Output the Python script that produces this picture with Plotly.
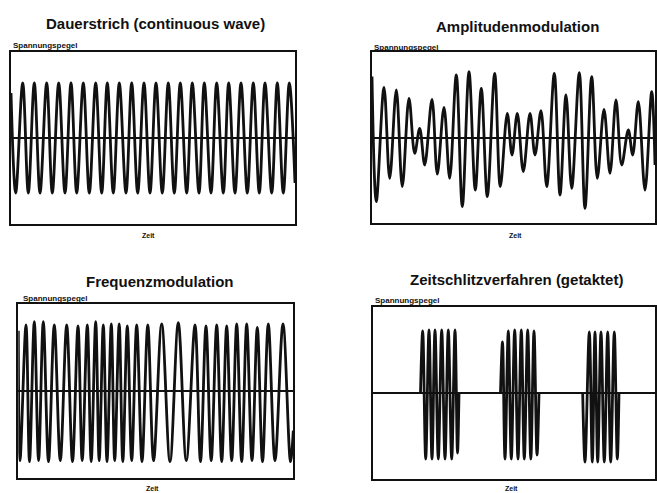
import plotly.graph_objects as go

# ---------------- data ----------------
# amplitudes are relative to the centre line, time in arbitrary units from the left frame edge

titles = ["Dauerstrich (continuous wave)", "Amplitudenmodulation",
          "Frequenzmodulation", "Zeitschlitzverfahren (getaktet)"]
y_label = "Spannungspegel"
x_label = "Zeit"

# Dauerstrich: extrema of the wave
cw_t = [0, 4.7, 11.7, 17.3, 23.3, 29, 35.7, 41.3, 47.7, 54, 60, 65.7, 72.3, 78.3, 84.7, 90.7,
        96.3, 102.3, 108.3, 115, 120.7, 126.7, 133, 139, 145, 151.3, 157.3, 163.3, 169.3,
        175.7, 181.3, 188, 193.3, 200, 205.7, 212.3, 217.7, 224, 230, 236.3, 242.3, 248.3,
        254, 260.7, 266.3, 272.3, 278.3, 284]
cw_v = [45, -55, 55, -55, 55, -55, 55, -55, 55, -55, 55, -55, 55, -55, 55, -55,
        55, -55, 55, -55, 55, -55, 55, -55, 55, -55, 55, -55, 55,
        -55, 55, -55, 55, -55, 55, -55, 55, -55, 55, -55, 55, -55,
        55, -55, 55, -55, 55, -45]

# Amplitudenmodulation
am_t = [0.3, 4.6, 12.3, 18, 24.6, 30.6, 37.3, 43, 48, 53, 60.3, 65.6, 72.3, 78, 84.6, 90.6,
        97.3, 103.6, 109.6, 115.6, 123, 128.6, 135.6, 140.3, 145.6, 151.6, 158.3, 163.3,
        169.3, 175, 182.6, 188.3, 194.3, 200, 207.6, 213.3, 220, 225.6, 232.3, 238.3,
        244.3, 250, 256.6, 261, 266.6, 273.3, 280, 283.3]
am_v = [61.7, -63.3, 51, -40, 48.3, -48.3, 40, -15, 10, -26.7, 39, -35.7, 31, -40, 63.3, -68.3,
        66.7, -51.7, 50, -58.3, 65, -48.3, 25, -16.7, 25, -33.3, 25, -16.7,
        27.7, -48.3, 65, -56.7, 43.3, -50, 65.7, -70, 61.7, -40, 29, -35,
        38.3, -26.7, 8.3, -16.7, 36.7, -51.7, 46.7, -26.7]

# Frequenzmodulation
fm_t = [0, 1.7, 7.7, 11.2, 16, 20.3, 25, 30.2, 36, 42, 48.4, 54.2, 59.7, 63.9, 69, 72.9,
        77.4, 80.9, 85, 88.7, 93, 96.4, 100.9, 104.5, 109, 113.4, 118.4, 123.7, 129.5,
        135.3, 143.4, 151.7, 160, 168, 176.7, 182.2, 187.7, 192.9, 198.4, 203.4, 208.4,
        213.4, 218.4, 223.4, 228.4, 233.7, 239, 244.2, 250, 256.7, 264.7, 272.2, 275]
fm_v = [60, -70, 65.7, -71, 69, -70, 69, -71, 65.7, -70, 65.7, -71, 64.7, -70, 65.7, -71,
        69, -70, 65.7, -71, 66.7, -70, 66.7, -71, 64.7, -70, 65.7, -71, 65.7,
        -70, 66.7, -71, 68, -70, 65.7, -71, 64.7, -70, 65.7, -71, 64.7,
        -70, 66.7, -71, 66.7, -70, 63.3, -71, 66.7, -70, 66.7, -71, -40]

# Zeitschlitzverfahren: three bursts (None = pause on the centre line)
td_t = [47.7, 49.9, 52.9, 56.2, 59.2, 62.2, 65.5, 68.9, 72.2, 75.5, 78.9, 82.2, 84.7, 86.2, None,
        127.7, 129.7, 132.2, 135.5, 138.5, 141.9, 145.2, 148.5, 151.5, 154.9, 158, 161.2, 164.2, 166.2, None,
        209.9, 212.2, 216.5, 219.5, 222.2, 224.9, 228.2, 231.5, 234.9, 237.9, 241.5, 244.5, 246.2]
td_v = [0, 62, -66, 63, -66, 63, -66, 63, -66, 63, -66, 63, -60, 0, None,
        0, 51, -66, 62, -66, 63, -66, 63, -66, 63, -66, 62, -62, 0, None,
        0, -69, 61, -69, 61, -69, 61, -69, 61, -69, 61, -66, 0]

series = [(cw_t, cw_v), (am_t, am_v), (fm_t, fm_v), (td_t, td_v)]

# ---------------- layout helpers ----------------
W, H = 657, 493
# frame boxes in page pixels: left, right, top, bottom, centre line
boxes = [(11, 295, 52, 224, 138), (371.7, 655, 52, 223.3, 138.3),
         (18.3, 293.3, 304.3, 477.7, 390.7), (372.8, 654.5, 307.3, 478.8, 393)]
title_pos = [(155, 23), (517, 26), (160, 281), (516, 279)]
zeit_pos = [(148, 235), (515, 235), (152, 488), (511, 488)]
ylab_pos = [(11, 45), (372, 47.5), (20.5, 298), (373, 300)]

FONT = "Liberation Sans, Arial, Helvetica, sans-serif"
INK = "#111111"

fig = go.Figure()
annotations = []
for i, ((t, v), (l, r, tp, bt, c)) in enumerate(zip(series, boxes)):
    n = "" if i == 0 else str(i + 1)
    fig.add_trace(go.Scatter(x=t, y=v, mode="lines", xaxis="x" + n, yaxis="y" + n,
                             line=dict(color=INK, width=2.8, shape="spline", smoothing=1.0),
                             connectgaps=False, showlegend=False, hoverinfo="skip"))
    fig.layout["xaxis" + n] = dict(domain=[l / W, r / W], range=[0, r - l], anchor="y" + n,
                                   showline=True, mirror=True, linecolor=INK, linewidth=2,
                                   showgrid=False, zeroline=False, showticklabels=False, ticks="")
    fig.layout["yaxis" + n] = dict(domain=[1 - bt / H, 1 - tp / H], range=[-(bt - c), c - tp],
                                   anchor="x" + n, showline=True, mirror=True, linecolor=INK,
                                   linewidth=2, showgrid=False, zeroline=True, zerolinecolor=INK,
                                   zerolinewidth=2, showticklabels=False, ticks="")
    tx, ty = title_pos[i]
    annotations.append(dict(text="<b>%s</b>" % titles[i], x=tx / W, y=1 - ty / H, xref="paper",
                            yref="paper", showarrow=False, xanchor="center", yanchor="middle",
                            font=dict(family=FONT, size=15, color=INK)))
    zx, zy = zeit_pos[i]
    annotations.append(dict(text="<b>%s</b>" % x_label, x=zx / W, y=1 - zy / H, xref="paper",
                            yref="paper", showarrow=False, xanchor="center", yanchor="middle",
                            font=dict(family=FONT, size=7, color=INK)))
    sx, sy = ylab_pos[i]
    annotations.append(dict(text="<b>%s</b>" % y_label, x=sx / W, y=1 - sy / H, xref="paper",
                            yref="paper", showarrow=False, xanchor="left", yanchor="middle",
                            font=dict(family=FONT, size=8, color=INK)))

fig.update_layout(width=W, height=H, margin=dict(l=0, r=0, t=0, b=0),
                  paper_bgcolor="white", plot_bgcolor="white", annotations=annotations)

fig.write_html("out.html", config={"displayModeBar": False},
               post_script="document.body.style.margin='0';document.body.style.overflow='hidden';")
